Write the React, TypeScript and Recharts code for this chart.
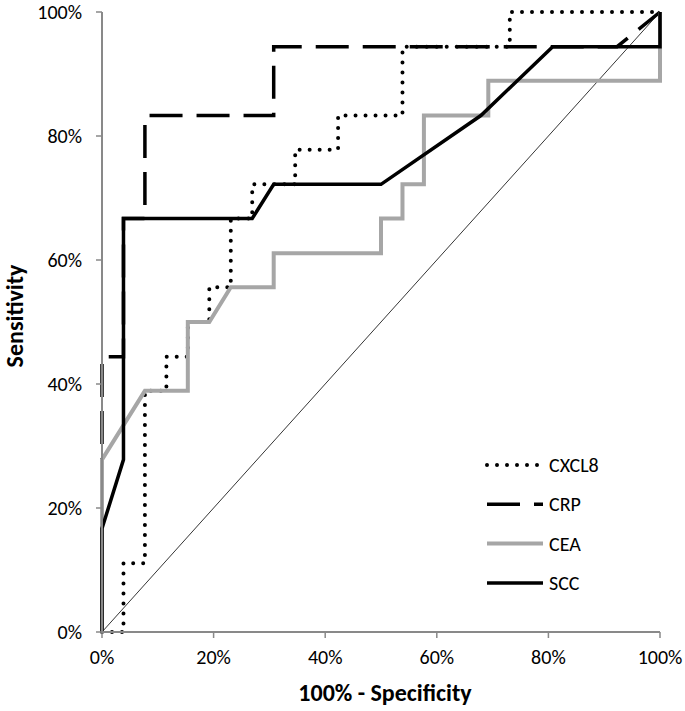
import React from 'react';
import { LineChart, Line, XAxis, YAxis } from 'recharts';

// ROC curves: [100% - specificity, sensitivity] in percent
const cxcl8Points = [
  [0, 0], [3.85, 0], [3.85, 11.1], [7.69, 11.1], [7.69, 38.9], [11.54, 38.9], [11.54, 44.4],
  [15.38, 44.4], [15.38, 50], [19.23, 50], [19.23, 55.6], [23.08, 55.6], [23.08, 66.7],
  [26.92, 66.7], [26.92, 72.2], [34.62, 72.2], [34.62, 77.8], [42.31, 77.8], [42.31, 83.3],
  [53.85, 83.3], [53.85, 94.4], [73.08, 94.4], [73.08, 100], [100, 100],
];
const crpPoints = [
  [0, 0], [0, 44.4], [3.85, 44.4], [3.85, 66.7], [7.69, 66.7], [7.69, 83.3], [30.77, 83.3],
  [30.77, 94.4], [92.31, 94.4], [100, 100],
];
const ceaPoints = [
  [0, 0], [0, 27.8], [7.69, 38.9], [15.38, 38.9], [15.38, 50], [19.23, 50], [23.08, 55.6],
  [30.77, 55.6], [30.77, 61.1], [50, 61.1], [50, 66.7], [53.85, 66.7], [53.85, 72.2],
  [57.69, 72.2], [57.69, 83.3], [69.23, 83.3], [69.23, 88.9], [100, 88.9], [100, 100],
];
const sccPoints = [
  [0, 0], [0, 16.7], [3.85, 27.8], [3.85, 66.7], [26.92, 66.7], [30.77, 72.2], [50, 72.2],
  [67.9, 83.3], [80.77, 94.4], [100, 94.4], [100, 100],
];
const chancePoints = [[0, 0], [100, 100]];
const ticks = [0, 20, 40, 60, 80, 100];

const toData = (pts: number[][]) => pts.map(([x, y]) => ({ x, y }));

const FONT = 'Carlito, Calibri, Lato, sans-serif';

const series = [
  { name: 'CXCL8', points: cxcl8Points, stroke: '#000', width: 4, dash: '0 10', cap: 'round' },
  { name: 'CRP', points: crpPoints, stroke: '#000', width: 3.5, dash: '33 14', cap: 'butt' },
  { name: 'CEA', points: ceaPoints, stroke: '#a6a6a6', width: 4, dash: undefined, cap: 'butt' },
  { name: 'SCC', points: sccPoints, stroke: '#000', width: 3.5, dash: undefined, cap: 'butt' },
];

const RocLegend = () => (
  <svg width={180} height={150} style={{ position: 'absolute', left: 485, top: 450 }}>
    {series.map((s, i) => {
      const y = 15 + i * 39.3;
      return (
        <g key={s.name}>
          <line x1={2} x2={58} y1={y} y2={y} stroke={s.stroke} strokeWidth={s.width}
            strokeDasharray={s.dash} strokeLinecap={s.cap as any} />
          <text x={64} y={y} dominantBaseline="central" fontFamily={FONT} fontSize={20} fill="#000">{s.name}</text>
        </g>
      );
    })}
  </svg>
);

export default function App() {
  return (
    <div style={{ position: 'absolute', left: 0, top: 0, width: 685, height: 711, background: '#fff' }}>
      <LineChart width={685} height={711} margin={{ top: 12, right: 25, left: 0, bottom: 0 }}>
        <XAxis
          type="number"
          dataKey="x"
          domain={[0, 100]}
          ticks={ticks}
          tickFormatter={(v) => `${v}%`}
          height={79}
          tickSize={6}
          tickMargin={12}
          axisLine={{ stroke: '#898989', strokeWidth: 2 }}
          tickLine={{ stroke: '#898989', strokeWidth: 1.5 }}
          tick={{ fill: '#000', fontSize: 20, fontFamily: FONT }}
          label={{
            content: (p: any) => {
              const vb = p.viewBox;
              return (
                <text x={vb.x + vb.width / 2 + 4} y={vb.y + 60} textAnchor="middle" dominantBaseline="central"
                  fontFamily={FONT} fontSize={24} fontWeight="bold" fill="#000">100% - Specificity</text>
              );
            },
          }}
        />
        <YAxis
          type="number"
          dataKey="y"
          domain={[0, 100]}
          ticks={ticks}
          tickFormatter={(v) => `${v}%`}
          width={102}
          tickSize={6}
          tickMargin={14}
          axisLine={{ stroke: '#898989', strokeWidth: 2 }}
          tickLine={{ stroke: '#898989', strokeWidth: 1.5 }}
          tick={{ fill: '#000', fontSize: 20, fontFamily: FONT }}
          label={{
            content: (p: any) => {
              const vb = p.viewBox;
              const cx = 14;
              const cy = vb.y + vb.height / 2 - 6;
              return (
                <text x={cx} y={cy} transform={`rotate(-90 ${cx} ${cy})`} textAnchor="middle" dominantBaseline="central"
                  fontFamily={FONT} fontSize={24} fontWeight="bold" fill="#000">Sensitivity</text>
              );
            },
          }}
        />
        <Line data={toData(chancePoints)} dataKey="y" stroke="#000" strokeWidth={0.8} dot={false}
          activeDot={false} isAnimationActive={false} legendType="none" />
        {series.map((s) => (
          <Line
            key={s.name}
            name={s.name}
            data={toData(s.points)}
            dataKey="y"
            type="linear"
            stroke={s.stroke}
            strokeWidth={s.width}
            strokeDasharray={s.dash}
            strokeLinecap={s.cap as any}
            strokeLinejoin="miter"
            dot={false}
            activeDot={false}
            isAnimationActive={false}
          />
        ))}
      </LineChart>
      <RocLegend />
    </div>
  );
}
